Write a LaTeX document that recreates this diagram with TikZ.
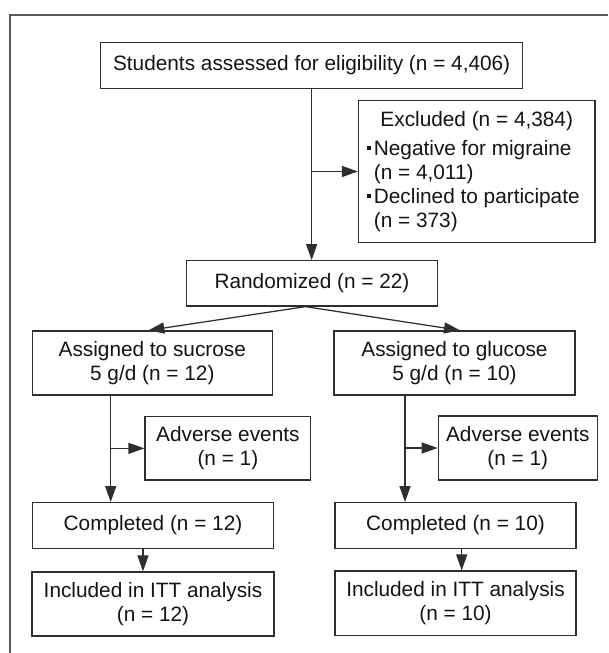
\documentclass[tikz,border=0pt]{standalone}
\usepackage{fontspec}
\setmainfont{Liberation Sans}
\usetikzlibrary{arrows.meta}
\definecolor{boxc}{HTML}{2E2E2E}
\definecolor{framec}{HTML}{5A5A5A}
\definecolor{txtc}{HTML}{141414}
\newcommand\sqbul{\raisebox{5pt}{\rule{4pt}{4pt}}\hspace{2.5pt}}
\begin{document}
\begin{tikzpicture}[x=1pt,y=-1pt,
  box/.style={draw=boxc, line width=1.25pt, inner sep=0pt, text=txtc, align=center,
    font=\fontsize{20.8}{24}\selectfont},
  arr/.style={draw=boxc, line width=1.25pt, -{Triangle[length=16pt,width=11pt]}},
  framestyle/.style={draw=framec, line width=1.8pt}
]
\useasboundingbox (0,0) rectangle (608,653);
\fill[white] (0,0) rectangle (608,653);
\draw[framestyle] (9.7,653) -- (9.7,14.7) -- (608,14.7);

\node[box, minimum width=421.7pt, minimum height=45.6pt] (top) at (311.65,65.5)
  {Students assessed for eligibility (n = 4,406)};
\node[box, minimum width=236.5pt, minimum height=141.6pt, align=left] (exc) at (476.75,171.5)
  {\makebox[218.7pt][c]{Excluded (n = 4,384)}\\[5pt]
   \sqbul Negative for migraine\\
   \hspace*{6.5pt}(n = 4,011)\\
   \sqbul Declined to participate\\
   \hspace*{6.5pt}(n = 373)};
\node[box, minimum width=250.4pt, minimum height=45.3pt] (rand) at (312,283.35)
  {Randomized (n = 22)};
\node[box, minimum width=240pt, minimum height=64pt] (suc) at (152.3,363)
  {Assigned to sucrose\\5 g/d (n = 12)};
\node[box, minimum width=241pt, minimum height=64pt] (glu) at (454.5,363)
  {Assigned to glucose\\5 g/d (n = 10)};
\node[box, minimum width=165.7pt, minimum height=63.3pt] (advL) at (227.85,448.35)
  {Adverse events\\(n = 1)};
\node[box, minimum width=159pt, minimum height=64pt] (advR) at (517.8,448)
  {Adverse events\\(n = 1)};
\node[box, minimum width=241pt, minimum height=45.5pt] (compL) at (153,525.4)
  {Completed (n = 12)};
\node[box, minimum width=241pt, minimum height=45.6pt] (compR) at (455.5,525.5)
  {Completed (n = 10)};
\node[box, minimum width=242pt, minimum height=64pt] (inclL) at (153,604)
  {Included in ITT analysis\\(n = 12)};
\node[box, minimum width=241pt, minimum height=64.7pt] (inclR) at (455.5,603.4)
  {Included in ITT analysis\\(n = 10)};

% top -> randomized, branch to excluded
\draw[arr] (top.south) -- (top.south |- rand.north);
\draw[arr] (top.south |- exc.west) -- (exc.west);

% randomized split
\draw[arr] ([xshift=-6.5pt]rand.south) -- ([xshift=-4pt]suc.north);
\draw[arr] ([xshift=-6.5pt]rand.south) -- ([xshift=5.5pt]glu.north);

% sucrose arm
\coordinate (tl) at ([xshift=-41.6pt]suc.south);
\draw[arr] (tl) -- (tl |- compL.north);
\draw[arr] (tl |- advL.west) -- (advL.west);
\draw[arr] ([xshift=-10pt]compL.south) -- ([xshift=-10pt]compL.south |- inclL.north);

% glucose arm
\coordinate (tr) at ([xshift=-49.5pt]glu.south);
\draw[arr] (tr) -- (tr |- compR.north);
\draw[arr] (tr |- advR.west) -- (advR.west);
\draw[arr] ([xshift=6.2pt]compR.south) -- ([xshift=6.2pt]compR.south |- inclR.north);
\end{tikzpicture}
\end{document}
